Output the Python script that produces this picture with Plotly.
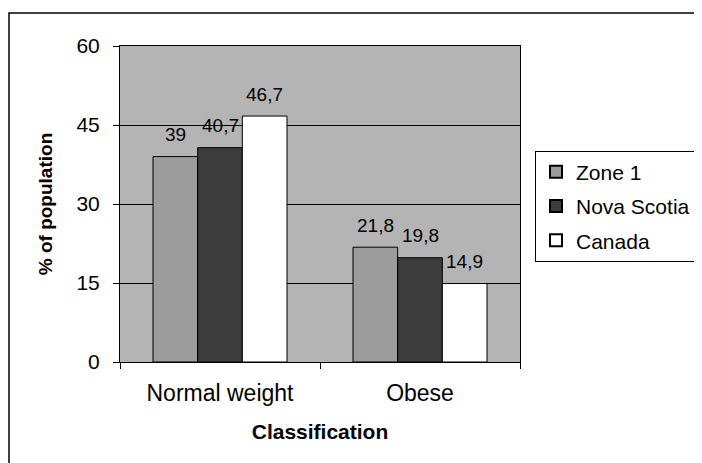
import plotly.graph_objects as go

categories = ["Normal weight", "Obese"]
series_names = ["Zone 1", "Nova Scotia", "Canada"]
zone1 = [39, 21.8]
nova_scotia = [40.7, 19.8]
canada = [46.7, 14.9]
value_labels = [["39", "21,8"], ["40,7", "19,8"], ["46,7", "14,9"]]
y_ticks = [0, 15, 30, 45, 60]

series_values = [zone1, nova_scotia, canada]
colors = ["#9c9c9c", "#3c3c3c", "#ffffff"]
FONT = "Arial, Liberation Sans, sans-serif"
BARGAP = 0.33

fig = go.Figure()
for name, vals, col in zip(series_names, series_values, colors):
    fig.add_trace(go.Bar(
        name=name, x=categories, y=vals, legendgroup=name,
        marker=dict(color=col, line=dict(color="black", width=1)),
    ))

# data labels above bars
bw = (1 - BARGAP) / len(series_names)
for j, (vals, labs) in enumerate(zip(series_values, value_labels)):
    for i, (v, lab) in enumerate(zip(vals, labs)):
        fig.add_annotation(
            x=i + (j - (len(series_names) - 1) / 2) * bw, y=v,
            xref="x", yref="y", text=lab, showarrow=False,
            yshift=22, font=dict(family=FONT, size=19, color="black"),
        )

# outer chart frame (clipped by the image)
fig.add_shape(type="rect", xref="paper", yref="paper",
              x0=-0.2775, x1=1.48, y0=-0.35, y1=1.1044,
              line=dict(color="black", width=1.5), fillcolor="rgba(0,0,0,0)",
              layer="below")

fig.update_layout(
    width=702, height=463,
    margin=dict(l=112, r=190, t=38, b=109, autoexpand=False),
    paper_bgcolor="white",
    plot_bgcolor="#b4b4b4",
    barmode="group", bargap=BARGAP, bargroupgap=0,
    font=dict(family=FONT, color="black"),
    showlegend=True,
    legend=dict(
        x=1.0375, y=0.669, xanchor="left", yanchor="top",
        bordercolor="black", borderwidth=1, bgcolor="white",
        font=dict(family=FONT, size=21, color="black"),
        itemsizing="constant", itemwidth=30, tracegroupgap=4,
    ),
    xaxis=dict(
        type="category",
        showline=True, linecolor="black", linewidth=1, mirror=True,
        ticks="outside", tickson="boundaries", ticklen=6, tickcolor="black",
        tickfont=dict(family=FONT, size=23),
        ticklabelstandoff=10,
        title=dict(text="<b>Classification</b>", font=dict(family=FONT, size=21), standoff=19),
        showgrid=False,
    ),
    yaxis=dict(
        range=[0, 60], tickvals=y_ticks,
        showline=True, linecolor="black", linewidth=1, mirror=True,
        ticks="outside", ticklen=6, tickcolor="black",
        tickfont=dict(family=FONT, size=21),
        ticklabelstandoff=9,
        showgrid=True, gridcolor="black", gridwidth=1,
        zeroline=False,
        title=dict(text="<b>% of population</b>", font=dict(family=FONT, size=19), standoff=18),
    ),
)

fig.write_html("out.html")
